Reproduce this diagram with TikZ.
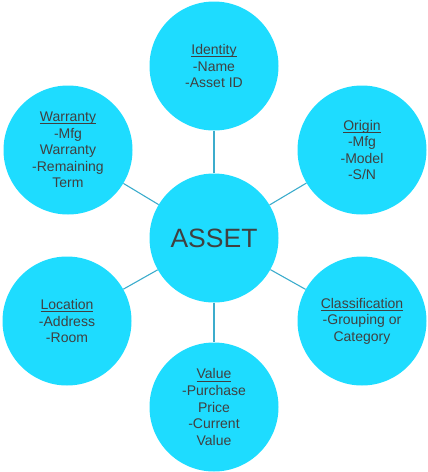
\documentclass[tikz,border=0pt]{standalone}
\usepackage{amsmath}
\usepackage{fontspec}
\setmainfont{Liberation Sans}
\definecolor{cBubble}{RGB}{30,220,255}
\definecolor{cLink}{RGB}{60,172,204}
\definecolor{cText}{RGB}{64,64,64}
\newcommand{\headword}[1]{\underline{\smash[b]{#1}}}

\begin{document}
\begin{tikzpicture}[x=1pt,y=-1pt,
  bubble/.style={circle,fill=cBubble,minimum size=129pt,inner sep=0pt,align=center,text=cText,font=\fontsize{14}{16.6}\selectfont},
  hub/.style={bubble,font=\fontsize{26.5}{30}\selectfont},
  link/.style={cLink,line width=1.1pt}]
\useasboundingbox (0,0) rectangle (428,472);
\node[hub] (asset) at (214,238) {ASSET};
\node[bubble] (identity) at (214,66) {\headword{Identity}\\-Name\\-Asset ID};
\node[bubble] (origin) at (362,150) {\headword{Origin}\\-Mfg\\-Model\\-S/N};
\node[bubble] (classification) at (362,321) {\headword{Classification}\\-Grouping or\\Category};
\node[bubble] (value) at (214,407) {\headword{Value}\\-Purchase\\Price\\-Current\\Value};
\node[bubble] (location) at (67,321) {\headword{Location}\\-Address\\-Room};
\node[bubble] (warranty) at (68,150) {\headword{Warranty}\\-Mfg\\Warranty\\-Remaining\\Term};
\draw[link] (asset) -- (identity);
\draw[link] (asset) -- (origin);
\draw[link] (asset) -- (classification);
\draw[link] (asset) -- (value);
\draw[link] (asset) -- (location);
\draw[link] (asset) -- (warranty);
\end{tikzpicture}
\end{document}
